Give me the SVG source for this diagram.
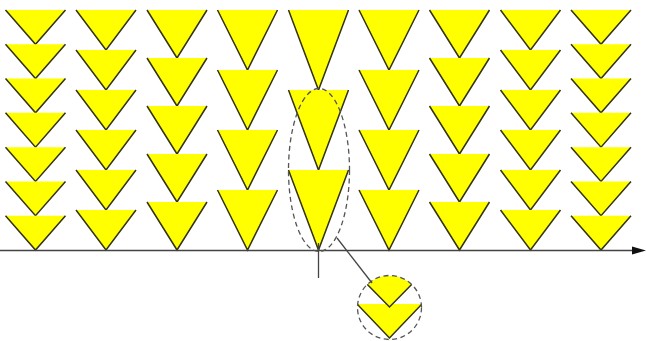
<svg xmlns="http://www.w3.org/2000/svg" width="646" height="341" viewBox="0 0 646 341">
<style>
.t{fill:#ffff00;stroke:#333310;stroke-width:1.5;stroke-linejoin:miter}
.d{fill:none;stroke:#555;stroke-width:1.3;stroke-dasharray:5 3.5}
.ln{fill:none;stroke:#444;stroke-width:1.3}
</style>
<defs>
<clipPath id="cc"><circle cx="389.5" cy="307.5" r="32"/></clipPath>
</defs>
<rect width="646" height="341" fill="#fff"/>
<g id="col1">
<path class="t" d="M5.5,10 L35.5,44.29 L65.5,10"/>
<path class="t" d="M5.5,44.29 L35.5,78.57 L65.5,44.29"/>
<path class="t" d="M5.5,78.57 L35.5,112.86 L65.5,78.57"/>
<path class="t" d="M5.5,112.86 L35.5,147.14 L65.5,112.86"/>
<path class="t" d="M5.5,147.14 L35.5,181.43 L65.5,147.14"/>
<path class="t" d="M5.5,181.43 L35.5,215.71 L65.5,181.43"/>
<path class="t" d="M5.5,215.71 L35.5,250 L65.5,215.71"/>
</g>
<g id="col2">
<path class="t" d="M76,10 L106,50 L136,10"/>
<path class="t" d="M76,50 L106,90 L136,50"/>
<path class="t" d="M76,90 L106,130 L136,90"/>
<path class="t" d="M76,130 L106,170 L136,130"/>
<path class="t" d="M76,170 L106,210 L136,170"/>
<path class="t" d="M76,210 L106,250 L136,210"/>
</g>
<g id="col3">
<path class="t" d="M147,10 L177,58 L207,10"/>
<path class="t" d="M147,58 L177,106 L207,58"/>
<path class="t" d="M147,106 L177,154 L207,106"/>
<path class="t" d="M147,154 L177,202 L207,154"/>
<path class="t" d="M147,202 L177,250 L207,202"/>
</g>
<g id="col4">
<path class="t" d="M217.5,10 L247.5,70 L277.5,10"/>
<path class="t" d="M217.5,70 L247.5,130 L277.5,70"/>
<path class="t" d="M217.5,130 L247.5,190 L277.5,130"/>
<path class="t" d="M217.5,190 L247.5,250 L277.5,190"/>
</g>
<g id="col5">
<path class="t" d="M288.5,10 L318.5,90 L348.5,10"/>
<path class="t" d="M288.5,90 L318.5,170 L348.5,90"/>
<path class="t" d="M288.5,170 L318.5,250 L348.5,170"/>
</g>
<g id="col6">
<path class="t" d="M359,10 L389,70 L419,10"/>
<path class="t" d="M359,70 L389,130 L419,70"/>
<path class="t" d="M359,130 L389,190 L419,130"/>
<path class="t" d="M359,190 L389,250 L419,190"/>
</g>
<g id="col7">
<path class="t" d="M429.5,10 L459.5,58 L489.5,10"/>
<path class="t" d="M429.5,58 L459.5,106 L489.5,58"/>
<path class="t" d="M429.5,106 L459.5,154 L489.5,106"/>
<path class="t" d="M429.5,154 L459.5,202 L489.5,154"/>
<path class="t" d="M429.5,202 L459.5,250 L489.5,202"/>
</g>
<g id="col8">
<path class="t" d="M500.5,10 L530.5,50 L560.5,10"/>
<path class="t" d="M500.5,50 L530.5,90 L560.5,50"/>
<path class="t" d="M500.5,90 L530.5,130 L560.5,90"/>
<path class="t" d="M500.5,130 L530.5,170 L560.5,130"/>
<path class="t" d="M500.5,170 L530.5,210 L560.5,170"/>
<path class="t" d="M500.5,210 L530.5,250 L560.5,210"/>
</g>
<g id="col9">
<path class="t" d="M571,10 L601,44.29 L631,10"/>
<path class="t" d="M571,44.29 L601,78.57 L631,44.29"/>
<path class="t" d="M571,78.57 L601,112.86 L631,78.57"/>
<path class="t" d="M571,112.86 L601,147.14 L631,112.86"/>
<path class="t" d="M571,147.14 L601,181.43 L631,147.14"/>
<path class="t" d="M571,181.43 L601,215.71 L631,181.43"/>
<path class="t" d="M571,215.71 L601,250 L631,215.71"/>
</g>
<g id="magnified">
<g clip-path="url(#cc)">
<path class="t" d="M357,304 L389.5,338 L422,304"/>
<path class="t" d="M359,276 L389.5,307 L420,276"/>
</g>
<circle class="d" cx="389.5" cy="307.5" r="32"/>
</g>
<g id="connectors">
<line class="ln" x1="0" y1="250.5" x2="634" y2="250.5"/>
<polygon points="632,246.5 646,250.5 632,254.5" fill="#111"/>
<line class="ln" x1="318.5" y1="243" x2="318.5" y2="278"/>
<ellipse class="d" cx="319" cy="170" rx="30.5" ry="81.5"/>
<line class="ln" x1="337" y1="238" x2="372" y2="283"/>
</g>
</svg>
